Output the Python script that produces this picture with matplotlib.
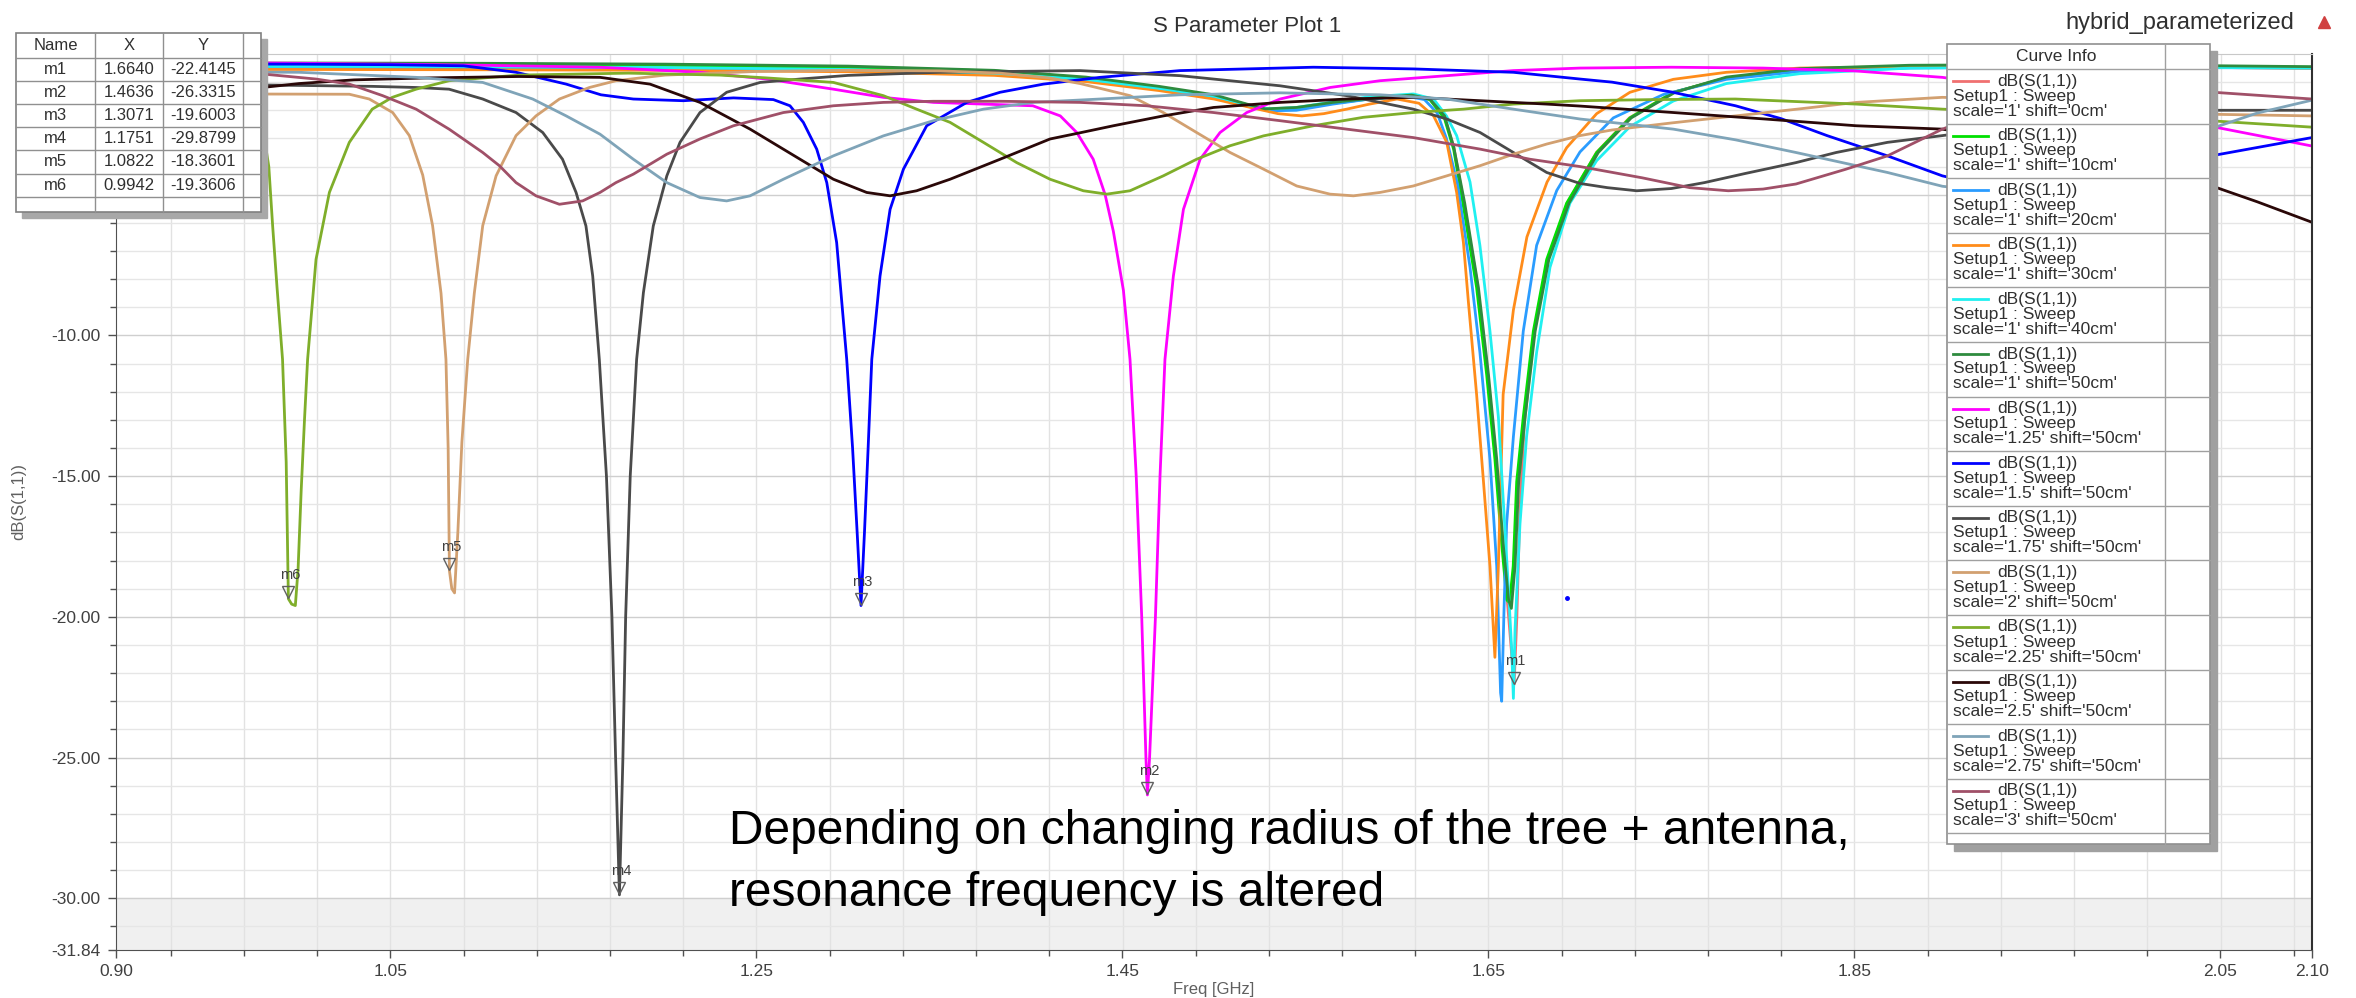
import matplotlib.pyplot as plt
from matplotlib.patches import Rectangle
from matplotlib.transforms import offset_copy

plt.rcParams['font.family'] = ['Liberation Sans', 'DejaVu Sans']

# ---- curve data: (freq GHz, dB(S11)) ----
s1_0cm = [(0.90, -0.42), (1.00, -0.40), (1.10, -0.42), (1.20, -0.45), (1.30, -0.52), (1.38, -0.65),
          (1.43, -0.88), (1.47, -1.20), (1.50, -1.50), (1.518, -1.82), (1.532, -1.98), (1.548, -1.92),
          (1.565, -1.74), (1.585, -1.58), (1.608, -1.48), (1.618, -1.62), (1.626, -2.25), (1.631, -3.3),
          (1.636, -5.1), (1.6435, -8.0), (1.649, -11.0), (1.6535, -14.0), (1.6575, -17.2), (1.661, -20.0),
          (1.664, -22.4), (1.6655, -20.0), (1.667, -16.5), (1.6695, -13.2), (1.675, -9.9), (1.682, -7.35),
          (1.693, -5.3), (1.709, -3.5), (1.727, -2.27), (1.751, -1.36), (1.78, -0.85), (1.82, -0.6),
          (1.88, -0.48), (1.95, -0.45), (2.02, -0.47), (2.10, -0.50)]
s1_10cm = [(0.90, -0.38), (1.00, -0.36), (1.10, -0.37), (1.20, -0.40), (1.30, -0.47), (1.38, -0.60),
           (1.43, -0.85), (1.47, -1.18), (1.50, -1.48), (1.518, -1.80), (1.528, -1.98), (1.545, -1.93),
           (1.565, -1.75), (1.585, -1.60), (1.608, -1.48), (1.618, -1.62), (1.626, -2.3), (1.631, -3.4),
           (1.636, -5.3), (1.6435, -8.3), (1.649, -11.4), (1.6535, -14.4), (1.6572, -17.4), (1.660, -19.4),
           (1.6615, -19.5), (1.6635, -18.2), (1.6654, -15.2), (1.669, -12.9), (1.6745, -9.85), (1.6818, -7.3),
           (1.6927, -5.3), (1.7091, -3.5), (1.7273, -2.27), (1.751, -1.36), (1.78, -0.85), (1.82, -0.58),
           (1.88, -0.45), (1.95, -0.42), (2.02, -0.44), (2.10, -0.47)]
s1_20cm = [(0.90, -0.50), (1.00, -0.48), (1.10, -0.50), (1.20, -0.52), (1.30, -0.58), (1.38, -0.70),
           (1.43, -0.92), (1.47, -1.25), (1.50, -1.55), (1.518, -1.85), (1.53, -2.02), (1.545, -2.00),
           (1.565, -1.78), (1.585, -1.60), (1.605, -1.50), (1.615, -1.62), (1.622, -2.1), (1.627, -3.0),
           (1.633, -4.6), (1.6399, -7.58), (1.6453, -10.6), (1.6508, -14.4), (1.6545, -18.2), (1.6566, -22.7),
           (1.6572, -23.0), (1.6585, -19.7), (1.6599, -16.7), (1.6636, -13.6), (1.669, -9.85), (1.6763, -6.8),
           (1.6873, -4.85), (1.70, -3.48), (1.7182, -2.27), (1.7455, -1.44), (1.78, -0.90), (1.82, -0.62),
           (1.88, -0.50), (1.95, -0.47), (2.02, -0.48), (2.10, -0.50)]
s1_30cm = [(0.90, -0.55), (1.00, -0.55), (1.10, -0.56), (1.20, -0.58), (1.30, -0.63), (1.38, -0.76),
           (1.43, -0.98), (1.47, -1.30), (1.50, -1.60), (1.52, -1.90), (1.535, -2.12), (1.548, -2.20),
           (1.56, -2.12), (1.5725, -1.96), (1.585, -1.78), (1.60, -1.60), (1.612, -1.75), (1.62, -2.2),
           (1.6272, -3.14), (1.6326, -4.92), (1.6363, -6.7), (1.639, -8.8), (1.6435, -12.1), (1.6472, -15.15),
           (1.6508, -18.2), (1.6535, -21.44), (1.6554, -18.2), (1.6567, -15.15), (1.658, -12.1), (1.6636, -9.1),
           (1.671, -6.5), (1.682, -4.55), (1.6927, -3.33), (1.7091, -2.12), (1.7273, -1.36), (1.751, -0.90),
           (1.78, -0.65), (1.82, -0.50), (1.88, -0.45), (1.95, -0.45), (2.02, -0.47), (2.10, -0.50)]
s1_40cm = [(0.90, -0.45), (1.00, -0.44), (1.10, -0.45), (1.20, -0.48), (1.30, -0.55), (1.38, -0.68),
           (1.43, -0.90), (1.47, -1.22), (1.50, -1.50), (1.518, -1.80), (1.53, -1.95), (1.545, -1.90),
           (1.565, -1.70), (1.585, -1.52), (1.609, -1.42), (1.62, -1.60), (1.627, -2.2), (1.6326, -2.9),
           (1.6399, -4.55), (1.6453, -6.8), (1.6508, -9.85), (1.6554, -12.9), (1.6581, -15.9), (1.6608, -18.9),
           (1.6627, -21.2), (1.6636, -22.9), (1.6645, -20.45), (1.6672, -16.7), (1.6708, -13.6), (1.6763, -10.6),
           (1.6836, -7.58), (1.6945, -5.3), (1.7091, -3.79), (1.7273, -2.58), (1.751, -1.67), (1.78, -1.05),
           (1.82, -0.70), (1.88, -0.50), (1.95, -0.46), (2.02, -0.47), (2.10, -0.50)]
s1_50cm = [(0.90, -0.33), (1.00, -0.32), (1.10, -0.33), (1.20, -0.36), (1.30, -0.43), (1.38, -0.58),
           (1.43, -0.82), (1.47, -1.15), (1.50, -1.45), (1.518, -1.78), (1.528, -1.95), (1.545, -1.90),
           (1.565, -1.72), (1.585, -1.58), (1.608, -1.46), (1.618, -1.60), (1.626, -2.2), (1.631, -3.3),
           (1.637, -5.3), (1.6445, -8.3), (1.650, -11.4), (1.6545, -14.4), (1.658, -17.4), (1.661, -19.4),
           (1.6625, -19.7), (1.6645, -18.2), (1.6665, -15.2), (1.670, -12.9), (1.6755, -9.85), (1.683, -7.3),
           (1.694, -5.3), (1.710, -3.5), (1.728, -2.27), (1.752, -1.36), (1.78, -0.82), (1.82, -0.52),
           (1.88, -0.40), (1.95, -0.38), (2.02, -0.40), (2.10, -0.45)]
s125_50cm = [(0.90, -0.30), (0.95, -0.30), (1.00, -0.33), (1.05, -0.36), (1.10, -0.40), (1.1645, -0.47),
             (1.219, -0.65), (1.2556, -0.89), (1.292, -1.25), (1.3193, -1.54), (1.3467, -1.72), (1.374, -1.78),
             (1.401, -1.84), (1.416, -2.2), (1.425, -2.79), (1.434, -3.74), (1.4405, -5.0), (1.445, -6.3),
             (1.4505, -8.4), (1.4541, -10.85), (1.4575, -15.0), (1.4605, -20.0), (1.4628, -25.0), (1.4636, -26.33),
             (1.4648, -25.0), (1.468, -20.0), (1.4705, -15.0), (1.4732, -10.85), (1.4778, -7.89), (1.4833, -5.52),
             (1.4924, -3.74), (1.5033, -2.79), (1.5179, -2.08), (1.5361, -1.60), (1.5634, -1.19), (1.5907, -0.95),
             (1.6272, -0.77), (1.6636, -0.59), (1.70, -0.50), (1.75, -0.47), (1.80, -0.50), (1.85, -0.60),
             (1.898, -0.83), (1.95, -1.30), (2.00, -1.95), (2.044, -2.56), (2.10, -3.27)]
s15_50cm = [(0.90, -0.35), (1.00, -0.36), (1.05, -0.38), (1.09, -0.42), (1.1186, -0.65), (1.146, -1.07),
            (1.165, -1.45), (1.1827, -1.60), (1.21, -1.66), (1.2374, -1.56), (1.2592, -1.62), (1.2683, -1.84),
            (1.2756, -2.43), (1.2829, -3.38), (1.2884, -4.57), (1.2938, -6.7), (1.2993, -10.85), (1.3025, -14.0),
            (1.305, -17.0), (1.3071, -19.6), (1.309, -17.0), (1.311, -14.0), (1.313, -10.85), (1.3175, -7.89),
            (1.323, -5.52), (1.3303, -4.09), (1.343, -2.55), (1.3649, -1.72), (1.3831, -1.36), (1.4068, -1.07),
            (1.4377, -0.83), (1.4814, -0.59), (1.5543, -0.47), (1.609, -0.53), (1.6636, -0.65), (1.70, -0.89),
            (1.7175, -1.00), (1.75, -1.35), (1.785, -1.84), (1.81, -2.30), (1.835, -2.90), (1.868, -3.62),
            (1.898, -4.33), (1.93, -4.80), (1.96, -4.90), (2.00, -4.45), (2.044, -3.63), (2.10, -2.97)]
s175_50cm = [(0.90, -1.10), (0.98, -1.10), (1.04, -1.15), (1.064, -1.19), (1.082, -1.25), (1.1004, -1.60),
             (1.1186, -2.08), (1.1332, -2.79), (1.144, -3.74), (1.1514, -4.92), (1.1568, -6.11), (1.1605, -7.89),
             (1.1641, -10.85), (1.168, -15.0), (1.171, -20.0), (1.173, -25.0), (1.1751, -29.88), (1.177, -25.0),
             (1.1785, -20.0), (1.181, -15.0), (1.1845, -10.85), (1.1882, -8.48), (1.1936, -6.11), (1.201, -4.33),
             (1.2082, -3.14), (1.2191, -2.08), (1.2337, -1.36), (1.252, -1.01), (1.2738, -0.89), (1.30, -0.76),
             (1.35, -0.65), (1.4268, -0.59), (1.4814, -0.77), (1.5361, -1.13), (1.5725, -1.48), (1.6089, -1.96),
             (1.6272, -2.31), (1.6454, -2.79), (1.6636, -3.50), (1.6818, -4.21), (1.70, -4.60), (1.715, -4.75),
             (1.731, -4.86), (1.75, -4.78), (1.768, -4.57), (1.79, -4.25), (1.818, -3.86), (1.84, -3.50),
             (1.868, -3.14), (1.898, -2.90), (1.95, -2.45), (2.00, -2.15), (2.044, -2.00), (2.10, -2.00)]
s2_50cm = [(0.90, -1.42), (0.96, -1.42), (1.0275, -1.43), (1.0384, -1.60), (1.0512, -2.08), (1.0603, -2.9),
           (1.0676, -4.3), (1.073, -6.1), (1.0776, -8.5), (1.0803, -10.85), (1.0815, -14.0), (1.0822, -18.36),
           (1.0835, -19.0), (1.085, -19.15), (1.0868, -17.0), (1.089, -13.8), (1.0922, -10.85), (1.0958, -8.5),
           (1.1004, -6.1), (1.1077, -4.33), (1.1186, -2.9), (1.1295, -2.2), (1.1423, -1.60), (1.1587, -1.19),
           (1.1732, -0.95), (1.20, -0.75), (1.25, -0.62), (1.30, -0.58), (1.35, -0.60), (1.3831, -0.68),
           (1.41, -0.85), (1.4268, -1.05), (1.4377, -1.22), (1.4541, -1.48), (1.4723, -2.08), (1.4905, -2.79),
           (1.5088, -3.50), (1.527, -4.09), (1.5452, -4.69), (1.5634, -4.98), (1.5762, -5.04), (1.5907, -4.92),
           (1.6089, -4.69), (1.6272, -4.33), (1.6454, -3.97), (1.6636, -3.56), (1.6818, -3.20), (1.70, -2.90),
           (1.7175, -2.70), (1.75, -2.45), (1.785, -2.20), (1.82, -1.95), (1.851, -1.72), (1.898, -1.54),
           (1.95, -1.65), (2.00, -1.90), (2.044, -2.14), (2.10, -2.20)]
s225_50cm = [(0.90, -1.25), (0.93, -1.45), (0.95, -1.70), (0.965, -2.0), (0.975, -2.3), (0.980, -2.55),
             (0.9835, -4.0), (0.9856, -6.11), (0.988, -8.3), (0.991, -10.85), (0.993, -14.5), (0.9942, -19.36),
             (0.996, -19.55), (0.998, -19.6), (0.9995, -18.3), (1.0012, -15.5), (1.003, -13.0), (1.0047, -10.85),
             (1.0093, -7.30), (1.0166, -4.92), (1.0275, -3.14), (1.040, -1.96), (1.051, -1.54), (1.064, -1.25),
             (1.082, -0.95), (1.12, -0.75), (1.18, -0.68), (1.23, -0.75), (1.2556, -0.85), (1.292, -1.01),
             (1.3193, -1.48), (1.3375, -1.96), (1.3558, -2.43), (1.374, -3.14), (1.3922, -3.86), (1.4104, -4.45),
             (1.4286, -4.86), (1.4414, -4.98), (1.4541, -4.86), (1.4723, -4.33), (1.4905, -3.74), (1.5088, -3.26),
             (1.527, -2.91), (1.5543, -2.55), (1.5816, -2.25), (1.6089, -2.08), (1.6363, -1.96), (1.6636, -1.78),
             (1.70, -1.66), (1.74, -1.62), (1.785, -1.60), (1.851, -1.78), (1.898, -1.96), (1.95, -2.10),
             (2.00, -2.25), (2.044, -2.37), (2.10, -2.60)]
s25_50cm = [(0.90, -1.30), (0.95, -1.25), (0.98, -1.19), (1.00, -1.05), (1.03, -0.92), (1.07, -0.85),
            (1.12, -0.80), (1.1645, -0.83), (1.1918, -1.07), (1.2191, -1.72), (1.2465, -2.67), (1.2738, -3.74),
            (1.292, -4.45), (1.3102, -4.92), (1.323, -5.04), (1.3375, -4.86), (1.3558, -4.45), (1.3831, -3.74),
            (1.4104, -3.02), (1.4268, -2.80), (1.445, -2.55), (1.4723, -2.20), (1.4997, -1.90), (1.5361, -1.72),
            (1.5725, -1.60), (1.6089, -1.54), (1.6454, -1.66), (1.6818, -1.78), (1.70, -1.85), (1.751, -2.08),
            (1.801, -2.31), (1.851, -2.55), (1.898, -2.67), (1.95, -3.25), (2.00, -3.95), (2.044, -4.66),
            (2.07, -5.25), (2.10, -5.98)]
s275_50cm = [(0.90, -0.62), (1.00, -0.65), (1.064, -0.83), (1.1004, -1.01), (1.1277, -1.60), (1.146, -2.2),
             (1.1645, -2.85), (1.1827, -3.74), (1.201, -4.57), (1.2191, -5.10), (1.2337, -5.22), (1.2465, -5.04),
             (1.2647, -4.45), (1.292, -3.62), (1.3193, -2.91), (1.3467, -2.37), (1.374, -1.96), (1.4013, -1.72),
             (1.4377, -1.60), (1.4814, -1.45), (1.5361, -1.38), (1.5907, -1.45), (1.6272, -1.60), (1.6636, -1.96),
             (1.70, -2.31), (1.751, -2.67), (1.785, -3.05), (1.818, -3.50), (1.868, -4.21), (1.898, -4.70),
             (1.925, -4.90), (1.95, -4.75), (1.98, -4.20), (2.01, -3.45), (2.044, -2.67), (2.07, -2.10),
             (2.10, -1.64)]
s3_50cm = [(0.90, -0.62), (0.98, -0.71), (1.0093, -0.89), (1.0275, -1.07), (1.0457, -1.48), (1.064, -1.96),
           (1.082, -2.67), (1.1004, -3.50), (1.1095, -3.97), (1.1186, -4.57), (1.1295, -5.04), (1.1423, -5.34),
           (1.155, -5.22), (1.1645, -4.92), (1.1732, -4.57), (1.1827, -4.27), (1.201, -3.56), (1.2191, -3.02),
           (1.2374, -2.55), (1.2647, -2.08), (1.292, -1.84), (1.3193, -1.72), (1.3467, -1.68), (1.3831, -1.68),
           (1.4268, -1.72), (1.4632, -1.84), (1.4997, -2.08), (1.5361, -2.37), (1.5725, -2.67), (1.6089, -2.97),
           (1.6454, -3.38), (1.6727, -3.74), (1.70, -4.00), (1.734, -4.40), (1.76, -4.75), (1.781, -4.86),
           (1.80, -4.80), (1.818, -4.62), (1.845, -4.10), (1.868, -3.62), (1.898, -2.67), (1.93, -1.90),
           (1.96, -1.45), (2.00, -1.30), (2.044, -1.35), (2.10, -1.60)]

curves = [s1_0cm, s1_10cm, s1_20cm, s1_30cm, s1_40cm, s1_50cm, s125_50cm,
          s15_50cm, s175_50cm, s2_50cm, s225_50cm, s25_50cm, s275_50cm, s3_50cm]
curve_labels = ["scale='1' shift='0cm'", "scale='1' shift='10cm'", "scale='1' shift='20cm'",
                "scale='1' shift='30cm'", "scale='1' shift='40cm'", "scale='1' shift='50cm'",
                "scale='1.25' shift='50cm'", "scale='1.5' shift='50cm'", "scale='1.75' shift='50cm'",
                "scale='2' shift='50cm'", "scale='2.25' shift='50cm'", "scale='2.5' shift='50cm'",
                "scale='2.75' shift='50cm'", "scale='3' shift='50cm'"]
curve_colors = ['#f07070', '#00e000', '#2a9cff', '#ff8c1a', '#20f0f0', '#2e8b3e', '#ff00ff',
                '#0000ff', '#4a4a4a', '#d2a070', '#7fae2a', '#2a0808', '#7fa4b8', '#a05068']

# markers
marker_names = ['m1', 'm2', 'm3', 'm4', 'm5', 'm6']
marker_x = [1.6640, 1.4636, 1.3071, 1.1751, 1.0822, 0.9942]
marker_y = [-22.4145, -26.3315, -19.6003, -29.8799, -18.3601, -19.3606]

x_major = [0.90, 1.05, 1.25, 1.45, 1.65, 1.85, 2.05, 2.10]
y_major = [-31.84, -30, -25, -20, -15, -10, -5, 0]
# the -5 and 0 labels sit behind the marker table in the original
y_labels = ['-31.84', '-30.00', '-25.00', '-20.00', '-15.00', '-10.00', '', '']

W, H = 2356, 998
fig = plt.figure(figsize=(W / 100, H / 100), dpi=100)
ax = fig.add_axes([116 / W, 48 / H, 2196 / W, 896 / H])
ax.set_xlim(0.90, 2.10)
ax.set_ylim(-31.84, 0.0)
ax.set_axisbelow(True)

# light band under -30 dB
ax.axhspan(-31.84, -30, color='#f0f0f0', zorder=0)

# grid
for k in range(31):
    xv = 0.93 + 0.04 * k
    if xv < 2.10:
        ax.axvline(xv, color='#e2e2e2', lw=1, zorder=0.5)
for yv in range(-31, 0):
    c = '#cfcfcf' if yv % 5 == 0 else '#e6e6e6'
    ax.axhline(yv, color=c, lw=1, zorder=0.5)

for pts, col in zip(curves, curve_colors):
    f = [p[0] for p in pts]
    d = [p[1] for p in pts]
    ax.plot(f, d, color=col, lw=2.0, solid_joinstyle='round', zorder=2)

# marker triangles and labels
tri_tr = offset_copy(ax.transData, fig=fig, x=0, y=5, units='points')
for name, mx, my in zip(marker_names, marker_x, marker_y):
    ax.plot([mx], [my], marker='v', ms=9, mfc='none', mec='#606060', mew=1.0,
            transform=tri_tr, zorder=4)
    ax.annotate(name, (mx, my), xytext=(1, 17), textcoords='offset points',
                ha='center', va='center', fontsize=10.5, color='#404040', zorder=4)
ax.plot([1.693], [-19.32], 'o', ms=2.5, color='#0000ff', zorder=3)

ax.set_xticks(x_major)
ax.set_xticklabels(['%.2f' % v for v in x_major])
ax.set_xticks([0.93 + 0.04 * k for k in range(30) if 0.93 + 0.04 * k < 2.095], minor=True)
ax.set_yticks(y_major)
ax.set_yticklabels(y_labels)
ax.set_yticks(list(range(-31, 0)), minor=True)
ax.tick_params(axis='both', which='major', labelsize=12.5, labelcolor='#404040', color='#505050',
               length=6, width=1)
ax.tick_params(axis='both', which='minor', color='#505050', length=4, width=1)
ax.tick_params(axis='y', which='major', pad=5)
ax.tick_params(axis='x', which='major', pad=4)

for side in ['left', 'bottom']:
    ax.spines[side].set_color('#505050')
ax.spines['right'].set_color('#303030')
ax.spines['right'].set_linewidth(1.5)
ax.spines['top'].set_color('#c8c8c8')

ax.set_xlabel('Freq [GHz]', fontsize=12, color='#606060')
ax.xaxis.set_label_coords(0.5, -0.036)
ax.set_ylabel('dB(S(1,1))', fontsize=12, color='#606060')
ax.yaxis.set_label_coords(-0.041, 0.5)

# ---- overlay in pixel coordinates: title, marker table, curve info ----
ov = fig.add_axes([0, 0, 1, 1], zorder=10)
ov.set_xlim(0, W)
ov.set_ylim(H, 0)
ov.axis('off')
ov.patch.set_alpha(0)

ov.text(1247, 26, 'S Parameter Plot 1', ha='center', va='center', fontsize=16, color='#303030')
ov.text(2294, 23, 'hybrid_parameterized', ha='right', va='center', fontsize=17, color='#303030')
ov.plot([2324], [22], marker='^', ms=8, color='#d04040')

# marker table
cols_x = [16, 95, 163, 243, 261]
rows_y = [33, 58, 80.5, 103.5, 127, 150, 173.5, 197, 212]
ov.add_patch(Rectangle((22, 39), cols_x[-1] - cols_x[0], rows_y[-1] - rows_y[0], color='#a8a8a8', zorder=1))
ov.add_patch(Rectangle((cols_x[0], rows_y[0]), cols_x[-1] - cols_x[0], rows_y[-1] - rows_y[0],
                       facecolor='white', edgecolor='#808080', lw=1.2, zorder=2))
for xc in cols_x[1:-1]:
    ov.plot([xc, xc], [rows_y[0], rows_y[-1]], color='#909090', lw=1, zorder=3)
for yr in rows_y[1:-1]:
    ov.plot([cols_x[0], cols_x[-1]], [yr, yr], color='#909090', lw=1, zorder=3)
header = ['Name', 'X', 'Y']
for j, h in enumerate(header):
    ov.text((cols_x[j] + cols_x[j + 1]) / 2, (rows_y[0] + rows_y[1]) / 2, h,
            ha='center', va='center', fontsize=12, color='#303030', zorder=4)
for i, (name, mx, my) in enumerate(zip(marker_names, marker_x, marker_y)):
    yc = (rows_y[i + 1] + rows_y[i + 2]) / 2
    vals = [name, '%.4f' % mx, '%.4f' % my]
    for j, v in enumerate(vals):
        ov.text((cols_x[j] + cols_x[j + 1]) / 2, yc, v, ha='center', va='center',
                fontsize=12, color='#303030', zorder=4)

# curve info legend
lx0, lx1, lsep = 1947, 2210, 2165
ly0, lhead, lrow = 44, 25, 54.6
ly1 = ly0 + lhead + lrow * len(curves) + 11
ov.add_patch(Rectangle((lx0 + 7, ly0 + 7), lx1 - lx0, ly1 - ly0, color='#a0a0a0', zorder=1))
ov.add_patch(Rectangle((lx0, ly0), lx1 - lx0, ly1 - ly0, facecolor='white', edgecolor='#909090',
                       lw=1.2, zorder=2))
ov.plot([lsep, lsep], [ly0, ly1], color='#a0a0a0', lw=1, zorder=3)
ov.text((lx0 + lsep) / 2, ly0 + lhead / 2, 'Curve Info', ha='center', va='center',
        fontsize=12.5, color='#303030', zorder=4)
for i, (lab, col) in enumerate(zip(curve_labels, curve_colors)):
    top = ly0 + lhead + i * lrow
    ov.plot([lx0, lx1], [top, top], color='#a0a0a0', lw=1, zorder=3)
    ov.plot([1953, 1988], [top + 12, top + 12], color=col, lw=2, zorder=4)
    ov.text(1997, top + 12, 'dB(S(1,1))', va='center', fontsize=12.5, color='#303030', zorder=4)
    ov.text(1953, top + 27, 'Setup1 : Sweep', va='center', fontsize=12.5, color='#303030', zorder=4)
    ov.text(1953, top + 42, lab, va='center', fontsize=12.5, color='#303030', zorder=4)
ov.plot([lx0, lx1], [ly0 + lhead + lrow * len(curves)] * 2, color='#a0a0a0', lw=1, zorder=3)

# annotation
ov.text(729, 832, 'Depending on changing radius of the tree + antenna,', va='center',
        fontsize=34.5, color='black', zorder=5)
ov.text(729, 893, 'resonance frequency is altered', va='center', fontsize=34.5, color='black', zorder=5)

fig.savefig('out.png', dpi=100)
